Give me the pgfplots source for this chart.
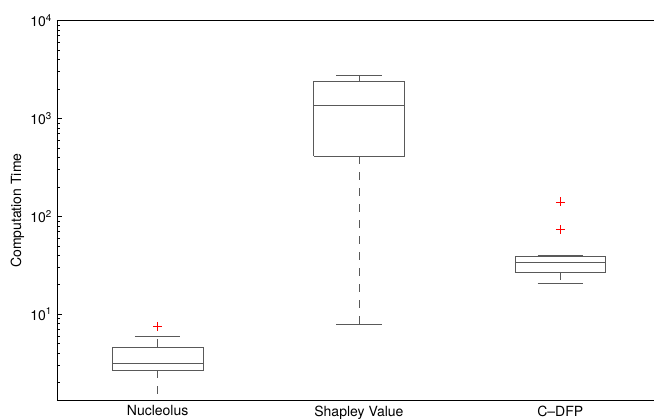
\documentclass[border=0pt]{standalone}
\usepackage{fontspec}
\setmainfont{TeX Gyre Heros}
\usepackage{pgfplots}
\pgfplotsset{compat=1.18}
\definecolor{boxgray}{gray}{0.35}
\begin{document}
\fontsize{10.5}{12.6}\selectfont
\begin{tikzpicture}
\begin{axis}[
  scale only axis,
  width=447.75pt, height=285pt,
  ymode=log,
  xmin=0.5, xmax=3.466,
  ymin=1.31, ymax=10000,
  axis lines*=left,
  axis line style={black, line width=0.6pt},
  tick align=inside,
  xtick={1,2,3},
  xticklabels={Nucleolus, Shapley Value, C--DFP},
  major x tick style={draw=none},
  ytick={10,100,1000,10000},
  yticklabels={10\textsuperscript{1},10\textsuperscript{2},10\textsuperscript{3},10\textsuperscript{4}},
  minor ytick={2,3,4,5,6,7,8,9,20,30,40,50,60,70,80,90,200,300,400,500,600,700,800,900,2000,3000,4000,5000,6000,7000,8000,9000},
  major tick length=4pt, minor tick length=2.2pt,
  tick style={black, line width=0.5pt},
  ylabel={Computation Time},
  every axis y label/.style={at={(rel axis cs:0,0.5)}, xshift=-29.6pt, rotate=90, anchor=center},
  bx/.style={boxgray, line width=0.5pt, solid, no marks},
  wh/.style={boxgray, line width=0.5pt, dash pattern=on 6pt off 6pt, no marks},
  outl/.style={only marks, mark=+, mark size=3.3pt, red, mark options={solid, line width=0.5pt}},
]
% ---- Nucleolus (x = 1)
\addplot[bx] coordinates {(0.775,2.68) (1.225,2.68) (1.225,4.60) (0.775,4.60) (0.775,2.68)};
\addplot[bx] coordinates {(0.775,3.16) (1.225,3.16)};
\addplot[wh] coordinates {(1,4.60) (1,6.0)};
\addplot[wh] coordinates {(1,2.68) (1,1.0)};
\addplot[bx] coordinates {(0.8875,6.0) (1.1125,6.0)};
\addplot[bx] coordinates {(0.8875,1.0) (1.1125,1.0)};
\addplot[outl] coordinates {(1,7.54)};
% ---- Shapley Value (x = 2)
\addplot[bx] coordinates {(1.775,413) (2.225,413) (2.225,2390) (1.775,2390) (1.775,413)};
\addplot[bx] coordinates {(1.775,1349) (2.225,1349)};
\addplot[wh] coordinates {(2,2390) (2,2754)};
\addplot[wh] coordinates {(2,413) (2,7.83)};
\addplot[bx] coordinates {(1.8875,2754) (2.1125,2754)};
\addplot[bx] coordinates {(1.8875,7.83) (2.1125,7.83)};
% ---- C-DFP (x = 3)
\addplot[bx] coordinates {(2.775,27.1) (3.225,27.1) (3.225,39.2) (2.775,39.2) (2.775,27.1)};
\addplot[bx] coordinates {(2.775,34.3) (3.225,34.3)};
\addplot[wh] coordinates {(3,39.2) (3,39.6)};
\addplot[wh] coordinates {(3,27.1) (3,20.6)};
\addplot[bx] coordinates {(2.8875,39.6) (3.1125,39.6)};
\addplot[bx] coordinates {(2.8875,20.6) (3.1125,20.6)};
\addplot[outl] coordinates {(3,73.3) (3,140.7)};
\end{axis}
\draw[black, line width=0.6pt] (current axis.north west) -- (current axis.north east);
\pgfresetboundingbox
\path[use as bounding box] ([xshift=-42.75pt,yshift=-13.7pt]current axis.south west) rectangle ([yshift=15.5pt]current axis.north east);
\end{tikzpicture}
\end{document}
